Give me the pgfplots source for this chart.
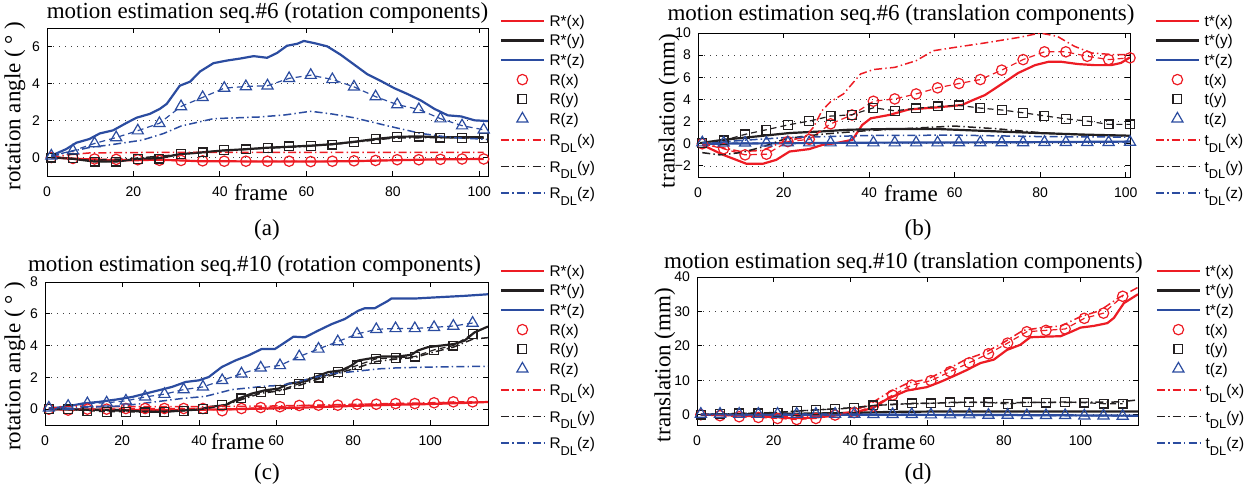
\documentclass[border=0pt]{standalone}
\usepackage{fontspec}
\setmainfont{Liberation Serif}
\newfontfamily\sansf{Liberation Sans}
\usepackage{pgfplots}
\pgfplotsset{compat=1.18}
\definecolor{mred}{RGB}{237,28,36}
\definecolor{mblue}{RGB}{43,76,160}
\definecolor{mblack}{RGB}{35,31,32}
\newcommand{\DL}{\raisebox{-3.4pt}{\fontsize{6.4}{7}\selectfont DL}}
\newcommand{\LN}[1]{\raisebox{0pt}[6pt][1.6pt]{#1}}
\newcommand{\LD}[1]{\raisebox{0pt}[6.8pt][4.3pt]{#1}}
\pgfplotsset{
  every axis title shift=0pt,
  sol/.style={line width=1.1pt, mark=none,
    legend image code/.code={\draw[##1] (0pt,0.5pt) -- (21.5pt,0.5pt);}},
  mk/.style={line width=0.6pt, dash pattern=on 3pt off 2pt, mark options={solid, line width=0.6pt},
    legend image code/.code={\draw[##1] plot coordinates {(10.75pt,0.5pt)};}},
  dl/.style={line width=0.75pt, mark=none, dash pattern=on 4pt off 1.6pt on 0.7pt off 1.6pt,
    legend image code/.code={\draw[##1] (0pt,1.5pt) -- (21.5pt,1.5pt);}},
  mko/.style={mk, mred, mark=o, mark size=2.6pt},
  mks/.style={mk, mblack, mark=square, mark size=2.2pt},
  mkt/.style={mk, mblue, mark=triangle, mark size=3.2pt},
  panel/.style={scale only axis, anchor=south west, clip=true,
    axis line style={line width=0.5pt},
    every tick/.style={black, line width=0.5pt},
    tick align=inside, major tick length=2.5pt,
    ymajorgrids, grid style={line width=0.4pt, black!75, dash pattern=on 0.5pt off 2.5pt},
    tick label style={font=\sansf\fontsize{7}{8}\selectfont},
    x tick label style={yshift=-2pt},
    /pgf/number format/assume math mode=true,
    xmin=0, xtick={0,20,...,100},
    title style={font=\fontsize{11.5}{13}\selectfont, anchor=base, inner sep=0pt},
    label style={font=\fontsize{11.5}{13}\selectfont, inner sep=0pt},
    xlabel={frame},
    legend cell align=left,
    legend style={draw=none, fill=none, inner sep=0pt, anchor=north west,
      font=\sansf\fontsize{7.7}{9}\selectfont,
      nodes={inner sep=0.8pt, text depth=, text height=}, row sep=0.6pt,
      /tikz/every odd column/.append style={column sep=1.5pt}},
  },
}
\begin{document}
\begin{tikzpicture}
\useasboundingbox (0,0) rectangle (628pt,-247.5pt);

% ---------- (a) seq 6 rotation
\begin{axis}[panel, at={(23.5pt,-88pt)}, width=220.5pt, height=74pt,
  xmax=102, ymin=-1, ymax=7, ytick={0,2,4,6},
  title={motion estimation seq.\#6 (rotation components)},
  title style={at={(axis description cs:0.5,1)}, yshift=5pt},
  ylabel={rotation angle ( ° )},
  ylabel style={at={(axis description cs:-0.0726,0.473)}, anchor=center},
  xlabel style={at={(axis description cs:0.485,0)}, anchor=north, yshift=-4pt},
  legend style={at={(1,1)}, xshift=5.7pt, yshift=7.9pt}]
\addplot[sol, mred] coordinates {(1,0) (5,-0.05) (10,-0.1) (15,-0.15) (20,-0.15) (25,-0.12) (30,-0.15) (35,-0.2) (40,-0.2) (50,-0.22) (60,-0.22) (70,-0.2) (80,-0.15) (90,-0.1) (101,-0.08)};
\addlegendentry{\LN{R*(x)}}
\addplot[sol, mblack] coordinates {(1,0.02) (6,-0.07) (10.6,-0.21) (16,-0.22) (20.7,-0.08) (26,-0.03) (30.7,0.18) (36,0.28) (40.8,0.38) (46,0.45) (51,0.53) (56,0.58) (61,0.64) (66,0.72) (71,0.85) (76,1.0) (81,1.12) (86,1.14) (91,1.1) (96,1.1) (101,1.1)};
\addlegendentry{\LN{R*(y)}}
\addplot[sol, mblue] coordinates {(1,0.1) (4.4,0.45) (6.8,0.8) (9.8,1.0) (12.2,1.3) (15.3,1.47) (18.4,1.87) (20.7,2.15) (23.8,2.36) (26.1,2.63) (27.7,2.9) (30.7,3.88) (33.1,4.1) (35.4,4.65) (38.5,5.1) (41.6,5.24) (44.7,5.35) (47.8,5.48) (50.9,5.39) (53.2,5.65) (55.5,6.04) (57.9,6.15) (59.4,6.3) (61.7,6.19) (64.8,6.01) (67.9,5.56) (71,5.03) (74.1,4.5) (77.2,4.14) (80.3,3.75) (83.4,3.43) (86.5,3.08) (89.6,2.63) (92.7,2.28) (95.8,2.22) (98.9,2.01) (102,1.97)};
\addlegendentry{\LN{R*(z)}}
\addplot[mko] coordinates {(1,0) (6,-0.05) (11,-0.08) (16,-0.1) (21,-0.12) (26,-0.15) (31,-0.16) (36,-0.18) (41,-0.2) (46,-0.2) (51,-0.2) (56,-0.2) (61,-0.22) (66,-0.2) (71,-0.18) (76,-0.16) (81,-0.12) (86,-0.12) (91,-0.1) (96,-0.08) (101,-0.08)};
\addlegendentry{\LN{R(x)}}
\addplot[mks] coordinates {(1,0) (6,-0.05) (11,-0.22) (16,-0.22) (21,-0.08) (26,-0.06) (31,0.2) (36,0.28) (41,0.4) (46,0.44) (51,0.53) (56,0.6) (61,0.62) (66,0.7) (71,0.83) (76,1.0) (81,1.12) (86,1.13) (91,1.08) (96,1.06) (101,1.05)};
\addlegendentry{\LN{R(y)}}
\addplot[mkt] coordinates {(1,0.09) (6,0.37) (11,0.76) (16,1.08) (21,1.45) (26,1.85) (31,2.76) (36,3.25) (41,3.75) (46,3.84) (51,3.88) (56,4.28) (61,4.45) (66,4.22) (71,3.82) (76,3.29) (81,2.86) (86,2.6) (91,2.1) (96,1.72) (101,1.5)};
\addlegendentry{\LN{R(z)}}
\addplot[dl, mred] coordinates {(1,0) (5,0.15) (10,0.25) (20,0.27) (40,0.28) (60,0.28) (80,0.28) (101,0.28)};
\addlegendentry{\LD{R\DL(x)}}
\addplot[dl, mblack] coordinates {(1,0) (10,-0.15) (20,-0.05) (30,0.15) (40,0.35) (50,0.5) (60,0.6) (70,0.8) (80,1.05) (90,1.08) (101,1.05)};
\addlegendentry{\LD{R\DL(y)}}
\addplot[dl, mblue] coordinates {(1,0.05) (5,0.3) (10,0.55) (14.5,0.68) (22,0.94) (27,1.3) (31,1.7) (38.5,2.1) (49,2.19) (55,2.3) (61,2.5) (66,2.35) (71,2.15) (79,1.7) (86.5,1.3) (93.5,1.08) (102,0.98)};
\addlegendentry{\LD{R\DL(z)}}
\end{axis}

% ---------- (b) seq 6 translation
\begin{axis}[panel, at={(349pt,-88.5pt)}, width=216pt, height=72pt,
  xmax=101, ymin=-3, ymax=10, ytick={-2,0,2,4,6,8,10},
  yticklabels={−2,0,2,4,6,8,10},
  title={motion estimation seq.\#6 (translation components)},
  title style={at={(axis description cs:0.47,1)}, yshift=6.5pt},
  ylabel={translation (mm)},
  ylabel style={at={(axis description cs:-0.067,0.458)}, anchor=center},
  xlabel style={at={(axis description cs:0.493,0)}, anchor=north, yshift=-4pt},
  legend style={at={(1,1)}, xshift=12.2pt, yshift=10.4pt}]
\addplot[sol, mred] coordinates {(1,-0.1) (5.9,-1.0) (11.3,-1.8) (15.2,-1.8) (18.3,-1.45) (21.4,-0.7) (26,-0.48) (29.1,-0.1) (32.3,0.06) (36.1,0.36) (38.4,1.7) (40.4,2.3) (44.7,2.6) (49.3,3.1) (56.3,3.3) (61.7,3.5) (64,3.9) (67.1,4.4) (71.8,5.6) (74.9,6.4) (78.8,7.1) (81.9,7.4) (85,7.4) (88.8,7.2) (92.7,7.1) (96.6,7.1) (98.9,7.3) (101,7.8)};
\addlegendentry{\LN{t*(x)}}
\addplot[sol, mblack] coordinates {(0.5,0.06) (5.9,0.36) (13.6,0.66) (21.4,0.97) (29.1,1.12) (35.3,1.27) (44.6,1.33) (56.2,1.33) (67.8,1.15) (79.5,0.97) (91.1,0.82) (101,0.73)};
\addlegendentry{\LN{t*(y)}}
\addplot[sol, mblue] coordinates {(1,0) (20,0.05) (40,0.1) (60,0.12) (80,0.15) (101,0.2)};
\addlegendentry{\LN{t*(z)}}
\addplot[mko] coordinates {(1,0) (6,-0.45) (11,-1.0) (16,-0.94) (21,0.2) (26,0.4) (31,1.8) (36,2.6) (41,3.84) (46,4.05) (51,4.5) (56,5.05) (61,5.44) (66,5.8) (71,6.65) (76,7.6) (81,8.3) (86,8.3) (91,7.9) (96,7.6) (101,7.76)};
\addlegendentry{\LN{t(x)}}
\addplot[mks] coordinates {(1,0.05) (6,0.3) (11,0.85) (16,1.27) (21,1.7) (26,2.05) (31,2.5) (36,2.62) (41,3.25) (46,2.98) (51,3.2) (56,3.37) (61,3.47) (66,3.22) (71,3.05) (76,2.8) (81,2.52) (86,2.25) (91,2.05) (96,1.75) (101,1.75)};
\addlegendentry{\LN{t(y)}}
\addplot[mkt] coordinates {(1,0.1) (6,0.08) (11,0.08) (16,0.08) (21,0.1) (26,0.1) (31,0.1) (36,0.1) (41,0.1) (46,0.1) (51,0.1) (56,0.1) (61,0.12) (66,0.12) (71,0.12) (76,0.12) (81,0.14) (86,0.14) (91,0.14) (96,0.14) (101,0.15)};
\addlegendentry{\LN{t(z)}}
\addplot[dl, mred] coordinates {(1,0) (5,-0.3) (10,-0.7) (15,-0.6) (20,0.2) (25,0.6) (27,1.5) (29,3.0) (31,3.8) (34,4.5) (36,5.4) (38,6.3) (41,6.7) (46,6.9) (51,7.5) (55,8.4) (60,8.7) (67,9.1) (75,9.6) (80,10.0) (84,9.7) (88,8.8) (92,8.2) (97,8.05) (101,8.05)};
\addlegendentry{\LD{t\DL(x)}}
\addplot[dl, mblack] coordinates {(1,-0.8) (5,-1.0) (10,-0.8) (15,-0.3) (20,0.4) (25,0.7) (30,0.9) (40,1.2) (50,1.4) (60,1.6) (70,1.35) (80,1.0) (90,0.8) (101,0.7)};
\addlegendentry{\LD{t\DL(y)}}
\addplot[dl, mblue] coordinates {(1,0) (10,0.3) (20,0.55) (30,0.65) (40,0.75) (60,0.78) (80,0.65) (101,0.6)};
\addlegendentry{\LD{t\DL(z)}}
\end{axis}

% ---------- (c) seq 10 rotation
\begin{axis}[panel, at={(22.5pt,-212.5pt)}, width=221.5pt, height=71.5pt,
  xmax=115, ymin=-1, ymax=8, ytick={0,2,4,6,8},
  title={motion estimation seq.\#10 (rotation components)},
  title style={at={(axis description cs:0.473,1)}, yshift=5.5pt},
  ylabel={rotation angle ( ° )},
  ylabel style={at={(axis description cs:-0.068,0.41)}, anchor=center},
  xlabel style={at={(axis description cs:0.435,0)}, anchor=north, yshift=-4pt},
  legend style={at={(1,1)}, xshift=5.7pt, yshift=9.9pt}]
\addplot[sol, mred] coordinates {(1,0) (10,-0.02) (20,-0.05) (30,-0.06) (40,-0.04) (50,0) (60,0.05) (70,0.12) (80,0.2) (90,0.27) (100,0.32) (110,0.4) (115,0.45)};
\addlegendentry{\LN{R*(x)}}
\addplot[sol, mblack] coordinates {(1,0) (10,-0.03) (20,-0.06) (26,-0.17) (31,-0.17) (39.9,-0.02) (43,0.15) (46.8,0.25) (50.3,0.67) (53.7,0.98) (57.2,1.19) (60.6,1.29) (63.2,1.6) (66.6,1.71) (70.1,2.02) (73.5,2.33) (77,2.44) (79.6,2.75) (81.3,3.06) (83.9,3.17) (87.3,3.31) (91.6,3.31) (95.1,3.42) (96.8,3.69) (99.4,3.9) (102.8,4.0) (106.3,4.1) (108.9,4.31) (111.5,4.83) (115,5.2)};
\addlegendentry{\LN{R*(y)}}
\addplot[sol, mblue] coordinates {(1,0.04) (5.4,0.15) (9.7,0.35) (14.1,0.46) (18.4,0.6) (22.7,0.77) (26.1,0.98) (29.6,1.19) (33,1.4) (36.5,1.71) (39.9,1.81) (42.5,2.02) (45.9,2.65) (49.4,3.06) (52.8,3.38) (56.3,3.79) (59.7,3.79) (62.3,4.2) (64.5,4.56) (67.5,4.52) (70.9,4.94) (74.4,5.35) (77.8,5.67) (81.3,6.19) (83,6.35) (85.6,6.35) (89,6.81) (89.9,6.96) (95.9,6.96) (100.3,7.02) (108.9,7.13) (115,7.23)};
\addlegendentry{\LN{R*(z)}}
\addplot[mko] coordinates {(1,0) (6,-0.06) (11,0) (16,0) (21,0.04) (26,0.04) (31,0.04) (36,0.04) (41,0.04) (46,-0.1) (51,0.04) (56,0.1) (61,0.15) (66,0.23) (71,0.25) (76,0.25) (81,0.31) (86,0.31) (91,0.35) (96,0.35) (101,0.4) (106,0.46) (111,0.46)};
\addlegendentry{\LN{R(x)}}
\addplot[mks] coordinates {(1,0) (6,-0.02) (11,-0.1) (16,-0.17) (21,-0.17) (26,-0.21) (31,-0.17) (36,-0.1) (41,0) (46,0.25) (51,0.67) (56,1.08) (61,1.19) (66,1.6) (71,1.98) (76,2.33) (81,2.75) (86,3.17) (91,3.23) (96,3.31) (101,3.73) (106,4.0) (111,4.73)};
\addlegendentry{\LN{R(y)}}
\addplot[mkt] coordinates {(1,0.08) (6,0.19) (11,0.35) (16,0.4) (21,0.52) (26,0.77) (31,0.94) (36,1.23) (41,1.4) (46,1.81) (51,2.23) (56,2.6) (61,2.75) (66,3.31) (71,3.79) (76,4.25) (81,4.73) (86,5.02) (91,5.08) (96,5.08) (101,5.15) (106,5.23) (111,5.42)};
\addlegendentry{\LN{R(z)}}
\addplot[dl, mred] coordinates {(1,0) (5,0.2) (20,0.15) (40,0.15) (60,0.2) (80,0.3) (100,0.4) (115,0.45)};
\addlegendentry{\LD{R\DL(x)}}
\addplot[dl, mblack] coordinates {(1,0) (10,-0.05) (20,-0.12) (30,-0.15) (40,-0.02) (46,0.2) (51,0.6) (56,1.0) (61,1.15) (66,1.5) (71,1.9) (76,2.25) (81,2.6) (86,3.0) (91,3.15) (96,3.25) (101,3.6) (106,3.9) (111,4.4) (115,4.5)};
\addlegendentry{\LD{R\DL(y)}}
\addplot[dl, mblue] coordinates {(1,0) (10,0.1) (20,0.2) (30,0.5) (35.6,0.67) (41.6,0.8) (48.5,1.23) (57,1.44) (61.5,1.5) (66,1.75) (70,2.0) (74.4,2.23) (78.7,2.33) (83,2.44) (87,2.54) (91.6,2.6) (100,2.65) (115,2.7)};
\addlegendentry{\LD{R\DL(z)}}
\end{axis}

% ---------- (d) seq 10 translation
\begin{axis}[panel, at={(348.5pt,-212.5pt)}, width=220.5pt, height=74pt,
  xmax=115, ymin=-3, ymax=40, ytick={0,10,20,30,40},
  title={motion estimation seq.\#10 (translation components)},
  title style={at={(axis description cs:0.468,1)}, yshift=4.5pt},
  ylabel={translation (mm)},
  ylabel style={at={(axis description cs:-0.073,0.405)}, anchor=center},
  xlabel style={at={(axis description cs:0.435,0)}, anchor=north, yshift=-4pt},
  legend style={at={(1,1)}, xshift=8.7pt, yshift=7.4pt}]
\addplot[sol, mred] coordinates {(1,0) (10,-0.2) (20,-0.7) (25,-1.0) (30,-0.9) (35,-0.4) (40.8,0.5) (46,2.0) (49.5,4.5) (54.7,7.0) (59.9,8.0) (63.4,9.5) (66.9,11.2) (70.4,13.0) (73.9,15.0) (77.4,16.0) (80.8,18.8) (84.3,20.3) (86.9,22.5) (91.3,22.7) (94.8,22.8) (97.4,24.0) (100,25.3) (103.5,25.8) (107,26.6) (108.7,28.1) (111.3,32.4) (115,35.0)};
\addlegendentry{\LN{t*(x)}}
\addplot[sol, mblack] coordinates {(1,0) (20,0.2) (40,0.5) (50,0.8) (60,0.9) (80,0.9) (100,0.9) (115,0.9)};
\addlegendentry{\LN{t*(y)}}
\addplot[sol, mblue] coordinates {(1,0) (40,0) (60,-0.05) (80,-0.1) (100,-0.2) (115,-0.3)};
\addlegendentry{\LN{t*(z)}}
\addplot[mko] coordinates {(1,0) (6,-0.3) (11,-0.6) (16,-0.8) (21,-1.1) (26,-1.4) (31,-1.1) (36,-0.1) (41,0.6) (46,2.5) (51,5.7) (56,8.6) (61,9.9) (66,12.5) (71,15.1) (76,17.7) (81,20.8) (86,24.1) (91,24.5) (96,24.9) (101,28) (106,29.5) (111,34.4)};
\addlegendentry{\LN{t(x)}}
\addplot[mks] coordinates {(1,0) (6,0.2) (11,0.4) (16,0.4) (21,0.6) (26,1.1) (31,1.4) (36,1.65) (41,1.9) (46,2.7) (51,2.9) (56,3.3) (61,3.3) (66,3.6) (71,3.6) (76,3.6) (81,3.1) (86,3.6) (91,3.5) (96,3.7) (101,3.5) (106,3.2) (111,3.2)};
\addlegendentry{\LN{t(y)}}
\addplot[mkt] coordinates {(1,0.2) (6,0.2) (11,0.2) (16,0.2) (21,0.2) (26,0.2) (31,0.2) (36,0.2) (41,0.2) (46,0.1) (51,0.1) (56,0.1) (61,0) (66,0) (71,0) (76,-0.1) (81,-0.1) (86,-0.2) (91,-0.2) (96,-0.2) (101,-0.3) (106,-0.3) (111,-0.4)};
\addlegendentry{\LN{t(z)}}
\addplot[dl, mred] coordinates {(1,0) (20,-0.5) (30,-0.5) (40,0.8) (45,3) (50,6.5) (55,9.2) (60,10.3) (65,13) (70,16) (75,18) (80,21) (85,24.5) (90,25.3) (95,25.8) (100,28.5) (105,30.2) (110,34) (115,37)};
\addlegendentry{\LD{t\DL(x)}}
\addplot[dl, mblack] coordinates {(1,0) (10,0.3) (20,0.6) (30,1.3) (40,2.0) (50,3.0) (60,3.3) (70,3.6) (80,3.5) (90,3.6) (100,3.6) (110,3.7) (115,4.3)};
\addlegendentry{\LD{t\DL(y)}}
\addplot[dl, mblue] coordinates {(1,0) (40,-0.1) (80,-0.2) (115,-0.3)};
\addlegendentry{\LD{t\DL(z)}}
\end{axis}

\node[font=\fontsize{11.5}{13}\selectfont] at (133.5pt,-115pt) {(a)};
\node[font=\fontsize{11.5}{13}\selectfont] at (459pt,-115pt) {(b)};
\node[font=\fontsize{11.5}{13}\selectfont] at (133.5pt,-237pt) {(c)};
\node[font=\fontsize{11.5}{13}\selectfont] at (459pt,-237pt) {(d)};
\end{tikzpicture}
\end{document}
